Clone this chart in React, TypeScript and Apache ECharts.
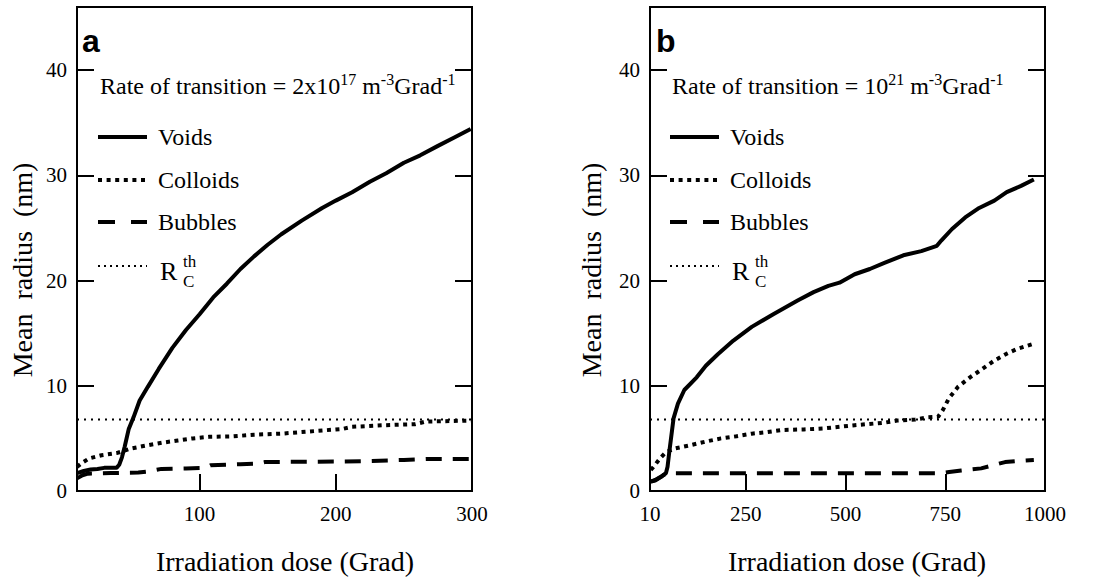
import React, { useEffect, useRef } from 'react';
import * as echarts from 'echarts';

const SERIF = 'Liberation Serif';
const SANS = 'Liberation Sans';

// ---- Panel a (rate of transition = 2x10^17) : [dose (Grad), mean radius (nm)]
const voidsA: number[][] = [[10,1.7],[15,1.9],[20,2.05],[25,2.1],[30,2.2],[35,2.2],[39,2.2],[41,2.5],[43,3.2],[45,4.2],[48,5.9],[51.5,7.0],[56,8.6],[62,9.9],[70,11.6],[80,13.6],[90,15.3],[100,16.8],[110,18.4],[120,19.7],[130,21.1],[140,22.3],[150,23.4],[160,24.4],[175,25.7],[190,26.9],[200,27.6],[212,28.4],[225,29.4],[237,30.2],[250,31.2],[262,31.9],[275,32.8],[287,33.6],[299,34.4]];
const colloidsA: number[][] = [[10,2.3],[14,2.7],[19,3.1],[28,3.4],[39,3.6],[50,4.05],[62,4.35],[73,4.6],[84,4.8],[95,5.0],[107,5.15],[125,5.2],[140,5.35],[160,5.45],[175,5.6],[190,5.75],[205,5.9],[212,6.1],[235,6.25],[258,6.35],[266,6.6],[285,6.65],[300,6.7]];
const bubblesA: number[][] = [[10,1.2],[14,1.5],[18,1.65],[35,1.7],[55,1.75],[62,1.85],[72,2.1],[90,2.15],[104,2.2],[108,2.45],[130,2.55],[143,2.6],[148,2.75],[200,2.8],[225,2.85],[250,2.95],[270,3.05],[300,3.05]];
const rcA: number[][] = [[10,6.8],[300,6.8]];

// ---- Panel b (rate of transition = 10^21)
const voidsB: number[][] = [[12,0.9],[23,1.0],[38,1.35],[50,1.7],[54,2.3],[58,3.6],[62,4.8],[69,6.9],[80,8.3],[96,9.6],[127,10.8],[150,11.9],[180,13.0],[219,14.3],[265,15.6],[319,16.8],[380,18.1],[420,18.9],[457,19.5],[485,19.8],[523,20.6],[561,21.1],[599,21.7],[645,22.4],[690,22.8],[729,23.3],[740,23.8],[767,24.9],[800,26.0],[835,26.9],[873,27.6],[904,28.4],[940,29.0],[972,29.6]];
const colloidsB: number[][] = [[12,2.0],[19,2.3],[35,3.1],[50,3.7],[73,4.05],[111,4.35],[150,4.7],[188,5.0],[227,5.2],[265,5.45],[304,5.6],[342,5.8],[396,5.85],[446,5.95],[523,6.25],[599,6.5],[630,6.7],[675,6.8],[706,7.0],[732,7.05],[744,7.7],[759,8.8],[782,9.9],[812,10.8],[843,11.6],[873,12.4],[904,13.05],[930,13.5],[972,14.0]];
const bubblesB: number[][] = [[12,0.9],[23,1.05],[35,1.3],[45,1.55],[60,1.68],[200,1.68],[400,1.68],[600,1.68],[740,1.68],[760,1.8],[790,1.95],[815,2.05],[840,2.15],[870,2.45],[900,2.75],[930,2.85],[972,2.95]];
const rcB: number[][] = [[10,6.8],[1000,6.8]];

// ---- axis ticks / labels
const xTicksA = [100, 200];
const xLabelsA = [100, 200, 300];
const xTicksB = [250, 500, 750];
const xLabelsB = [10, 250, 500, 750, 1000];
const yInnerTicks = [10, 20, 30, 40];
const yLabels = [0, 10, 20, 30, 40];

const legendNames = ['Voids', 'Colloids', 'Bubbles'];
const headerA = [{ t: 'Rate of transition = 2x10' }, { t: '17', sup: true }, { t: ' m' }, { t: '-3', sup: true }, { t: 'Grad' }, { t: '-1', sup: true }];
const headerB = [{ t: 'Rate of transition = 10' }, { t: '21', sup: true }, { t: ' m' }, { t: '-3', sup: true }, { t: 'Grad' }, { t: '-1', sup: true }];

let ctx: CanvasRenderingContext2D | null = null;
function measure(t: string, size: number) {
  if (!ctx) ctx = document.createElement('canvas').getContext('2d');
  ctx!.font = `${size}px "Liberation Serif"`;
  return ctx!.measureText(t).width;
}

function txt(text: string, x: number, baseline: number, size: number, extra: any = {}) {
  return {
    type: 'text', x, y: baseline - 0.34 * size,
    style: { text, fontSize: size, fontFamily: SERIF, fill: '#000', align: 'left', verticalAlign: 'middle', ...extra },
  };
}

function header(x0: number, base: number, parts: any[]) {
  const els: any[] = [];
  let x = x0;
  for (const p of parts) {
    const size = p.sup ? 16 : 24;
    els.push(txt(p.t, x, p.sup ? base - 9 : base, size));
    x += measure(p.t, size);
  }
  return els;
}

function legend(lx: number, tx: number) {
  const rows = [137, 180, 222, 266];
  const styles = [
    { lineWidth: 4 },
    { lineWidth: 4, lineDash: [4, 4.6] },
    { lineWidth: 4, lineDash: [17, 16] },
    { lineWidth: 2, lineDash: [2, 4] },
  ];
  const els: any[] = [];
  rows.forEach((y, i) => {
    els.push({ type: 'line', shape: { x1: lx, y1: y, x2: lx + 49, y2: y }, style: { stroke: '#000', ...styles[i] } });
    if (i < 3) els.push(txt(legendNames[i], tx, y + 8.2, 24));
  });
  els.push(txt('R', tx + 2, 280, 26));
  els.push(txt('th', tx + 25, 267, 17));
  els.push(txt('C', tx + 25, 287, 17));
  return els;
}

const fmt = (v: number) => String(v);

function axesFor(gridIndex: number, min: number, max: number, ticks: number[], labels: number[]) {
  const tickStyle = { color: '#000', width: 2 };
  const labelStyle = { fontSize: 21, fontFamily: SERIF, color: '#000', formatter: fmt };
  const xAxis = {
    type: 'value', gridIndex, min, max,
    axisLine: { show: false },
    splitLine: { show: false },
    axisTick: { show: true, inside: true, length: 17, customValues: ticks, lineStyle: tickStyle },
    axisLabel: { show: true, customValues: labels, margin: 12, ...labelStyle },
  };
  const yLeft = {
    type: 'value', gridIndex, min: 0, max: 46, position: 'left',
    axisLine: { show: false }, splitLine: { show: false },
    axisTick: { show: true, inside: true, length: 17, customValues: yInnerTicks, lineStyle: tickStyle },
    axisLabel: { show: true, customValues: yLabels, margin: 10, ...labelStyle },
  };
  const yRight = {
    type: 'value', gridIndex, min: 0, max: 46, position: 'right',
    axisLine: { show: false }, splitLine: { show: false },
    axisTick: { show: true, inside: true, length: 17, customValues: yInnerTicks, lineStyle: tickStyle },
    axisLabel: { show: false },
  };
  return { xAxis, yLeft, yRight };
}

function seriesFor(xi: number, yi: number, voids: number[][], colloids: number[][], bubbles: number[][], rc: number[][]) {
  const base = { type: 'line', xAxisIndex: xi, yAxisIndex: yi, showSymbol: false, symbol: 'none', silent: true };
  return [
    { ...base, name: 'Voids', data: voids, lineStyle: { color: '#000', width: 4 } },
    { ...base, name: 'Colloids', data: colloids, lineStyle: { color: '#000', width: 4, type: [4, 4.5] } },
    { ...base, name: 'Bubbles', data: bubbles, lineStyle: { color: '#000', width: 4, type: [16, 11] } },
    { ...base, name: 'Rc', data: rc, lineStyle: { color: '#000', width: 2, type: [2, 5] } },
  ];
}

export default function App() {
  const ref = useRef<HTMLDivElement>(null);
  useEffect(() => {
    document.body.style.margin = '0';
    const chart = echarts.init(ref.current!, undefined, { renderer: 'svg' });
    const a = axesFor(0, 10, 300, xTicksA, xLabelsA);
    const b = axesFor(1, 10, 1000, xTicksB, xLabelsB);
    const grid = (left: number) => ({ left, top: 7, width: 395, height: 484, show: true, borderColor: '#000', borderWidth: 2, backgroundColor: 'transparent' });
    chart.setOption({
      animation: false,
      backgroundColor: '#fff',
      textStyle: { fontFamily: SERIF },
      grid: [grid(77), grid(650)],
      xAxis: [a.xAxis, b.xAxis],
      yAxis: [a.yLeft, a.yRight, b.yLeft, b.yRight],
      series: [
        ...seriesFor(0, 0, voidsA, colloidsA, bubblesA, rcA),
        ...seriesFor(1, 2, voidsB, colloidsB, bubblesB, rcB),
      ],
      graphic: [
        { type: 'text', x: 82, y: 52 - 0.34 * 32, style: { text: 'a', fontSize: 32, fontWeight: 'bold', fontFamily: SANS, fill: '#000', verticalAlign: 'middle' } },
        { type: 'text', x: 656, y: 52 - 0.34 * 32, style: { text: 'b', fontSize: 32, fontWeight: 'bold', fontFamily: SANS, fill: '#000', verticalAlign: 'middle' } },
        ...header(100, 94, headerA),
        ...header(672, 94, headerB),
        ...legend(98, 158),
        ...legend(670, 730),
        { type: 'text', x: 285, y: 561, style: { text: 'Irradiation dose (Grad)', fontSize: 28, fontFamily: SERIF, fill: '#000', align: 'center', verticalAlign: 'middle' } },
        { type: 'text', x: 857, y: 561, style: { text: 'Irradiation dose (Grad)', fontSize: 28, fontFamily: SERIF, fill: '#000', align: 'center', verticalAlign: 'middle' } },
        { type: 'text', x: 22, y: 270, rotation: Math.PI / 2, style: { text: 'Mean  radius  (nm)', fontSize: 28, fontFamily: SERIF, fill: '#000', align: 'center', verticalAlign: 'middle' } },
        { type: 'text', x: 591, y: 270, rotation: Math.PI / 2, style: { text: 'Mean  radius  (nm)', fontSize: 28, fontFamily: SERIF, fill: '#000', align: 'center', verticalAlign: 'middle' } },
      ],
    });
    return () => chart.dispose();
  }, []);
  return <div ref={ref} style={{ position: 'fixed', left: 0, top: 0, width: 1117, height: 579 }} />;
}
